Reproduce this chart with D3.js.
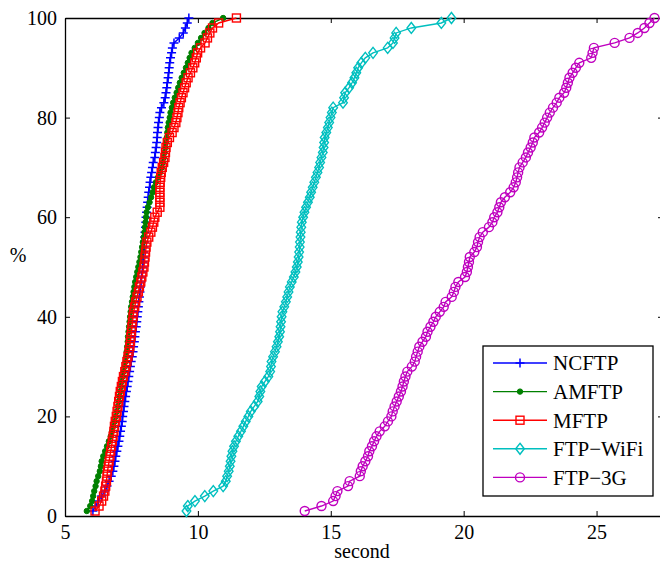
<!DOCTYPE html>
<html>
<head>
<meta charset="utf-8">
<script src="https://cdn.jsdelivr.net/npm/d3@7"></script>
<style>
  body { margin: 0; background: #fff; }
  svg { display: block; }
  text { font-family: "Liberation Serif", "Times New Roman", serif; }
</style>
</head>
<body>
<script>
// CDF percent levels (y) shared by all series
var percent = [1,2,3,4,5,6,7,8,9,10,11,12,13,14,15,16,17,18,19,20,
  21,22,23,24,25,26,27,28,29,30,31,32,33,34,35,36,37,38,39,40,
  41,42,43,44,45,46,47,48,49,50,51,52,53,54,55,56,57,58,59,60,
  61,62,63,64,65,66,67,68,69,70,71,72,73,74,75,76,77,78,79,80,
  81,82,83,84,85,86,87,88,89,90,91,92,93,94,95,96,97,98,99,100];

// transfer time in seconds for each percent level
var ncftp = [6.05,6.15,6.25,6.38,6.50,6.58,6.66,6.74,6.80,6.84,
  6.88,6.91,6.95,6.99,7.03,7.06,7.09,7.12,7.15,7.17,
  7.20,7.22,7.25,7.28,7.31,7.34,7.37,7.40,7.43,7.46,
  7.49,7.53,7.56,7.58,7.61,7.63,7.65,7.68,7.70,7.72,
  7.74,7.76,7.78,7.80,7.82,7.84,7.86,7.88,7.91,7.93,
  7.94,7.95,7.96,7.98,7.99,8.00,8.01,8.03,8.04,8.05,
  8.07,8.09,8.11,8.13,8.15,8.18,8.20,8.23,8.26,8.29,
  8.32,8.38,8.40,8.43,8.45,8.47,8.48,8.50,8.52,8.55,
  8.57,8.63,8.72,8.77,8.80,8.83,8.85,8.88,8.90,8.92,
  8.94,8.97,9.01,9.04,9.10,9.30,9.45,9.53,9.60,9.66];

var amftp = [5.82,5.95,6.02,6.06,6.10,6.15,6.19,6.25,6.31,6.35,
  6.38,6.44,6.51,6.58,6.65,6.72,6.77,6.82,6.87,6.91,
  6.95,6.99,7.02,7.05,7.08,7.11,7.13,7.17,7.21,7.25,
  7.28,7.30,7.32,7.34,7.36,7.37,7.39,7.41,7.43,7.45,
  7.47,7.49,7.52,7.55,7.58,7.61,7.64,7.68,7.72,7.76,
  7.80,7.84,7.87,7.90,7.93,7.96,7.99,8.01,8.03,8.05,
  8.07,8.12,8.18,8.24,8.30,8.35,8.42,8.50,8.58,8.65,
  8.69,8.72,8.75,8.78,8.80,8.83,8.85,8.87,8.90,8.94,
  8.97,9.02,9.07,9.13,9.20,9.26,9.32,9.39,9.47,9.55,
  9.62,9.69,9.76,9.88,10.00,10.12,10.25,10.40,10.55,10.95];

var mftp = [6.13,6.28,6.38,6.45,6.50,6.53,6.56,6.58,6.60,6.63,
  6.66,6.69,6.72,6.75,6.78,6.81,6.84,6.86,6.89,6.93,
  6.96,6.99,7.02,7.05,7.08,7.12,7.16,7.20,7.25,7.29,
  7.33,7.37,7.41,7.44,7.46,7.48,7.50,7.52,7.54,7.56,
  7.58,7.62,7.66,7.71,7.76,7.80,7.85,7.89,7.93,7.97,
  7.99,8.01,8.03,8.05,8.08,8.15,8.23,8.29,8.34,8.38,
  8.47,8.57,8.57,8.57,8.57,8.57,8.58,8.60,8.62,8.66,
  8.71,8.76,8.78,8.80,8.85,8.93,9.03,9.10,9.17,9.21,
  9.25,9.28,9.33,9.38,9.44,9.50,9.56,9.63,9.72,9.81,
  9.88,9.94,9.99,10.10,10.27,10.36,10.45,10.55,10.78,11.45];

var ftpWifi = [9.57,9.62,9.89,10.26,10.58,10.95,11.05,11.10,11.16,11.20,
  11.23,11.26,11.30,11.36,11.43,11.52,11.62,11.71,11.80,11.90,
  11.99,12.12,12.25,12.31,12.35,12.40,12.52,12.65,12.72,12.75,
  12.77,12.83,12.90,12.96,13.01,13.06,13.09,13.11,13.13,13.15,
  13.18,13.25,13.31,13.36,13.41,13.46,13.53,13.61,13.67,13.72,
  13.76,13.79,13.81,13.83,13.84,13.86,13.87,13.89,13.91,13.96,
  14.01,14.07,14.14,14.21,14.26,14.32,14.38,14.44,14.50,14.56,
  14.60,14.65,14.70,14.73,14.75,14.77,14.83,14.89,14.94,14.99,
  15.04,15.09,15.46,15.50,15.54,15.69,15.80,15.89,15.96,16.03,
  16.15,16.30,16.59,17.14,17.34,17.40,17.46,18.03,19.16,19.54];

var ftp3g = [14.02,14.65,15.09,15.18,15.25,15.65,15.71,16.09,16.13,16.20,
  16.30,16.40,16.45,16.55,16.63,16.72,16.84,17.03,17.15,17.28,
  17.33,17.40,17.48,17.56,17.64,17.70,17.75,17.81,17.88,18.05,
  18.16,18.21,18.27,18.33,18.45,18.58,18.64,18.75,18.86,18.95,
  19.10,19.25,19.32,19.55,19.63,19.69,19.80,20.05,20.12,20.16,
  20.20,20.23,20.40,20.50,20.54,20.60,20.72,20.95,21.08,21.15,
  21.27,21.34,21.40,21.55,21.75,21.88,21.96,22.01,22.05,22.10,
  22.22,22.34,22.42,22.52,22.60,22.66,22.84,22.95,23.05,23.14,
  23.24,23.36,23.50,23.60,23.78,23.86,23.92,23.98,24.10,24.22,
  24.35,24.80,24.85,24.90,25.68,26.24,26.55,26.80,26.99,27.18];

var seriesNames = ['NCFTP', 'AMFTP', 'MFTP', 'FTP\u2212WiFi', 'FTP\u22123G'];
var seriesValues = [ncftp, amftp, mftp, ftpWifi, ftp3g];
var seriesColors = ['#0000ff', '#008000', '#ff0000', '#00bfbf', '#bf00bf'];
var seriesMarkers = ['plus', 'dot', 'square', 'diamond', 'circle'];

var xTicks = [5, 10, 15, 20, 25];
var yTicks = [0, 20, 40, 60, 80, 100];

var W = 660, H = 566;
var plotLeft = 65, plotTop = 18, plotRight = 663, plotBottom = 516;

var svg = d3.select('body').append('svg')
    .attr('width', W)
    .attr('height', H);

var x = d3.scaleLinear().domain([5, 27.5]).range([plotLeft, plotRight]);
var y = d3.scaleLinear().domain([0, 100]).range([plotBottom, plotTop]);

// axes, MATLAB style: ticks pointing inwards on all four sides
var fontSize = 20;

svg.append('g')
    .attr('transform', 'translate(0,' + plotBottom + ')')
    .call(d3.axisBottom(x).tickValues(xTicks).tickSizeInner(-5).tickSizeOuter(0).tickPadding(9))
    .call(function(g) {
        g.selectAll('text').attr('font-size', fontSize).attr('fill', '#000');
    });

svg.append('g')
    .attr('transform', 'translate(' + plotLeft + ',0)')
    .call(d3.axisLeft(y).tickValues(yTicks).tickSizeInner(-5).tickSizeOuter(0).tickPadding(8))
    .call(function(g) {
        g.selectAll('text').attr('font-size', fontSize).attr('fill', '#000');
    });

svg.append('g')
    .attr('transform', 'translate(0,' + plotTop + ')')
    .call(d3.axisTop(x).tickValues(xTicks).tickSizeInner(-5).tickSizeOuter(0).tickFormat(''));

svg.append('g')
    .attr('transform', 'translate(' + plotRight + ',0)')
    .call(d3.axisRight(y).tickValues(yTicks).tickSizeInner(-5).tickSizeOuter(0).tickFormat(''));

svg.selectAll('.domain').attr('stroke', '#000').attr('stroke-width', 1.3);
svg.selectAll('.tick line').attr('stroke', '#000').attr('stroke-width', 1);

// axis labels
svg.append('text')
    .attr('x', 362)
    .attr('y', 558)
    .attr('text-anchor', 'middle')
    .attr('font-size', fontSize)
    .text('second');

svg.append('text')
    .attr('x', 18)
    .attr('y', 262)
    .attr('text-anchor', 'middle')
    .attr('font-size', fontSize)
    .text('%');

// marker drawing
function drawMarker(g, type, color) {
    if (type === 'plus') {
        g.append('path').attr('d', 'M-4.5,0H4.5M0,-4.5V4.5')
            .attr('stroke', color).attr('stroke-width', 1.5).attr('fill', 'none');
    } else if (type === 'dot') {
        g.append('circle').attr('r', 2.7).attr('fill', color).attr('stroke', color).attr('stroke-width', 1);
    } else if (type === 'square') {
        g.append('rect').attr('x', -4).attr('y', -4).attr('width', 8).attr('height', 8)
            .attr('stroke', color).attr('stroke-width', 1.4).attr('fill', 'none');
    } else if (type === 'diamond') {
        g.append('path').attr('d', 'M0,-5.5L4.3,0L0,5.5L-4.3,0Z')
            .attr('stroke', color).attr('stroke-width', 1.4).attr('fill', 'none');
    } else if (type === 'circle') {
        g.append('circle').attr('r', 4.5)
            .attr('stroke', color).attr('stroke-width', 1.4).attr('fill', 'none');
    }
}

var line = d3.line()
    .x(function(d) { return x(d[0]); })
    .y(function(d) { return y(d[1]); });

seriesValues.forEach(function(vals, i) {
    var pts = vals.map(function(v, j) { return [v, percent[j]]; });
    var g = svg.append('g');
    g.append('path')
        .datum(pts)
        .attr('d', line)
        .attr('fill', 'none')
        .attr('stroke', seriesColors[i])
        .attr('stroke-width', 1.4);
    g.selectAll('g.mk')
        .data(pts)
        .enter().append('g')
        .attr('class', 'mk')
        .attr('transform', function(d) { return 'translate(' + x(d[0]) + ',' + y(d[1]) + ')'; })
        .each(function() { drawMarker(d3.select(this), seriesMarkers[i], seriesColors[i]); });
});

// legend
var lg = svg.append('g');
lg.append('rect')
    .attr('x', 483).attr('y', 346)
    .attr('width', 170).attr('height', 150)
    .attr('fill', '#fff')
    .attr('stroke', '#000')
    .attr('stroke-width', 1.3);

seriesNames.forEach(function(name, i) {
    var ly = 363 + i * 28.6;
    lg.append('line')
        .attr('x1', 493).attr('x2', 547)
        .attr('y1', ly).attr('y2', ly)
        .attr('stroke', seriesColors[i])
        .attr('stroke-width', 1.4);
    drawMarker(lg.append('g').attr('transform', 'translate(520,' + ly + ')'), seriesMarkers[i], seriesColors[i]);
    lg.append('text')
        .attr('x', 553)
        .attr('y', ly)
        .attr('dy', '0.35em')
        .attr('font-size', 21)
        .text(name);
});
</script>
</body>
</html>
